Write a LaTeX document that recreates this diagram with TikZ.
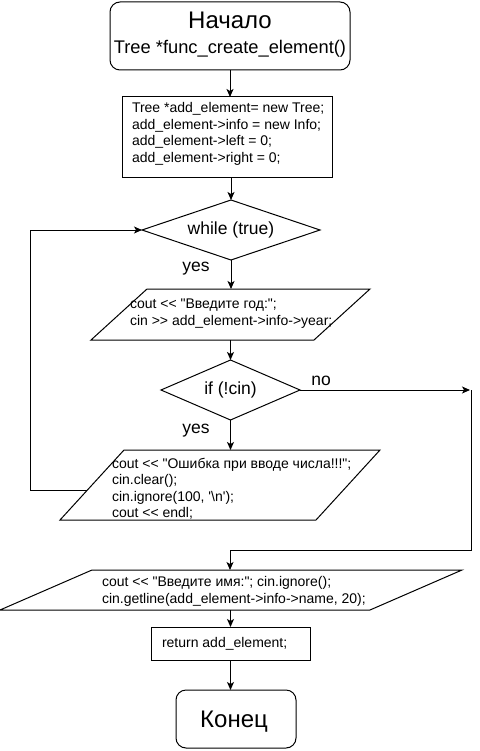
\documentclass[tikz,border=0pt]{standalone}
\usepackage{fontspec}
\newfontfamily\cf{Liberation Sans}
\usetikzlibrary{arrows.meta,shapes.geometric,calc}
\begin{document}
\begin{tikzpicture}[x=1pt,y=-1pt,
  every node/.style={font=\cf\fontsize{14}{16.5}\selectfont, inner sep=0pt, outer sep=0pt},
  ln/.style={line width=1pt, draw=black},
  arr/.style={ln, -{Stealth[length=8pt,width=7pt,inset=2pt]}},
  box/.style={ln, draw, rectangle},
  term/.style={ln, draw, rectangle, rounded corners=10pt},
  dec/.style={ln, draw, diamond, font=\cf\fontsize{17.5}{20}\selectfont},
  code/.style={anchor=west, align=left},
  lbl/.style={font=\cf\fontsize{17.5}{20}\selectfont},
  big/.style={font=\cf\fontsize{24}{28}\selectfont, anchor=base},
]
\useasboundingbox (0,0) rectangle (479,751);

% start
\node[term, minimum width=240pt, minimum height=68pt] (start) at (230,36) {};
\node[big] (startT) at (230,28.5) {Начало};
\node[font=\cf\fontsize{18.3}{22}\selectfont, anchor=base] (startF) at (230,54) {Tree *func\_create\_element()};

% init box
\node[box, minimum width=210pt, minimum height=81pt] (init) at (227,137.5) {};
\node[code] (initT) at (132,133.8) {Tree *add\_element= new Tree;\\add\_element->info = new Info;\\add\_element->left = 0;\\add\_element->right = 0;};

% while
\node[dec, aspect=3, minimum width=178pt, minimum height=60pt] (while) at (231,230) {while (true)};

% par1
\node[minimum width=279pt, minimum height=51pt] (par1) at (230.5,314.5) {};
\draw[ln] ($(par1.north west)+(56,0)$) -- (par1.north east) -- ($(par1.south east)-(56,0)$) -- (par1.south west) -- cycle;
\node[code] (par1T) at (130,313.5) {cout << "Введите год:";\\cin >> add\_element->info->year;};

% if
\node[dec, aspect=2.3, minimum width=139pt, minimum height=60pt] (if) at (230.5,390) {if (!cin)};

% par2
\node[minimum width=320pt, minimum height=70pt] (par2) at (220,485) {};
\draw[ln] ($(par2.north west)+(64,0)$) -- (par2.north east) -- ($(par2.south east)-(64,0)$) -- (par2.south west) -- cycle;
\node[code] (par2T) at (112,489) {cout << "Ошибка при вводе числа!!!";\\cin.clear();\\cin.ignore(100, '\textbackslash n');\\cout << endl;};

% par3
\node[minimum width=462pt, minimum height=40pt] (par3) at (231,590) {};
\draw[ln] ($(par3.north west)+(92,0)$) -- (par3.north east) -- ($(par3.south east)-(92,0)$) -- (par3.south west) -- cycle;
\node[code] (par3T) at (102,591.5) {cout << "Введите имя:"; cin.ignore();\\cin.getline(add\_element->info->name, 20);};

% return
\node[box, minimum width=159pt, minimum height=33pt] (ret) at (230.5,643.5) {};
\node[code] (retT) at (162,644) {return add\_element;};

% end
\node[term, minimum width=120pt, minimum height=58pt] (end) at (236,719) {};
\node[big] (endT) at (234,727.5) {Конец};

% labels
\node[lbl] (yes1) at (196,269) {yes};
\node[lbl] (yes2) at (196,431) {yes};
\node[lbl] (no) at (321,381) {no};

% helper coordinates
\coordinate (noend) at (470,390);
\coordinate (nocorner) at (471,550);
\coordinate (nojoin) at (230,550);
\coordinate (loopstart) at (87.4,490);
\coordinate (loopa) at (30,490);

% connectors
\draw[arr] (start.south) -- (start.south |- init.north);
\draw[arr] (while.north |- init.south) -- (while.north);
\draw[arr] (while.south) -- (while.south |- par1.north);
\draw[arr] (if.north |- par1.south) -- (if.north);
\draw[arr] (if.south) -- (if.south |- par2.north);
\draw[arr] (if.east) -- (noend);
\draw[arr] (noend -| nocorner) -- (nocorner) -- (nojoin) -- (nojoin |- par3.north);
\draw[arr] (loopstart) -- (loopa) -- (loopa |- while.west) -- (while.west);
\draw[arr] (ret.north |- par3.south) -- (ret.north);
\draw[arr] (ret.south) -- (ret.south |- end.north);
\end{tikzpicture}
\end{document}
